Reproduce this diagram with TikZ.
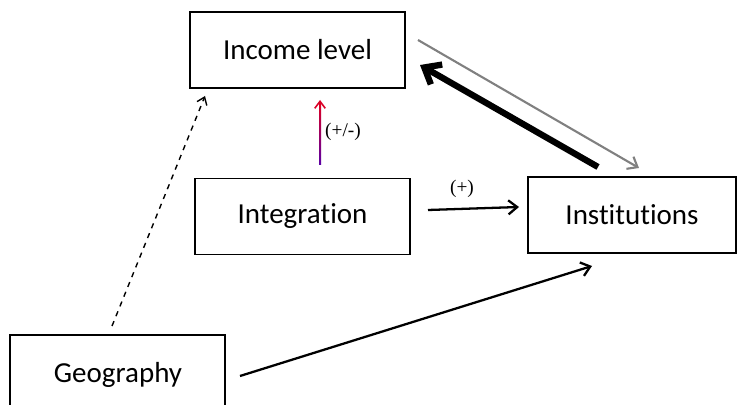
\documentclass[tikz,border=0pt]{standalone}
\usepackage{fontspec}
\setmainfont{Carlito}[Ligatures=NoCommon]
\newfontfamily\labfont{Liberation Serif}
\usetikzlibrary{arrows.meta,calc}
\tikzset{
  boxnode/.style={draw,line width=0.9pt,minimum width=215*0.02cm,minimum height=76*0.02cm,font=\fontsize{16.5}{18}\selectfont,inner sep=0pt},
  signlabel/.style={font=\labfont\fontsize{11}{13}\selectfont,inner sep=1pt}
}
\begin{document}
\begin{tikzpicture}[x=0.02cm,y=-0.02cm]
        \useasboundingbox (0,0) rectangle (737,405);
        \clip (0,0) rectangle (737,405);
        % Boxes
        \node[boxnode] (income) at (297.5,50) {Income level};
        \node[boxnode] (integ) at (302.5,216.5) {Integration};
        \node[boxnode,minimum width=208*0.02cm] (inst) at (632,215) {Institutions};
        \node[boxnode,minimum height=100*0.02cm] (geo) at (117.5,385) {};
        \node[font=\fontsize{16.5}{18}\selectfont] (geotext) at (118,375) {Geography};
        % Arrow end points
        \coordinate (g1) at (112,326);
        \coordinate (g2) at (205,96);
        \coordinate (g3) at (240,376);
        \coordinate (g4) at (592,266);
        \coordinate (m1) at (320,165);
        \coordinate (m2) at (320,100);
        \coordinate (m3) at (428,210);
        \coordinate (m4) at (519,207);
        \coordinate (r1) at (418,40);
        \coordinate (r2) at (639,168);
        \coordinate (r3) at (598,167);
        \coordinate (r4) at (420,65);
        % Arrows
        \draw [-{Straight Barb[length=4pt,width=6pt]},dashed,line width=0.8pt](g1)--(g2);
        \draw [-{Straight Barb[length=5pt,width=8pt]},line width=1.3pt](g3)--(g4);
        \draw [-{Straight Barb[length=5pt,width=8pt]},line width=1.3pt](m3)--(m4);
        \draw [-{Straight Barb[length=5pt,width=8pt]},gray,line width=1.2pt](r1)--(r2);
        \draw [-{Straight Barb[length=8pt,width=13pt]},line width=3.6pt](r3)--(r4);
        \shade[top color=red!85!blue,bottom color=blue!65!red] ($(m1)+(-1,0)$) rectangle ($(m2)+(1,6)$);
        \draw [-{Straight Barb[length=4pt,width=6pt]},red!85!blue,line width=0.9pt]($(m2)+(0,8)$)--(m2);
        % Signs
        \node[signlabel] (lab1) at (343,132) {(+/-)};
        \node[signlabel] (lab2) at (462,189) {(+)};
\end{tikzpicture}
\end{document}
